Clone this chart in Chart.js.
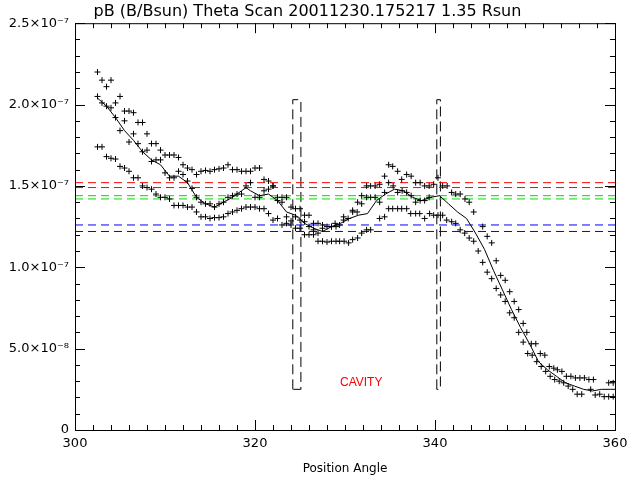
<!DOCTYPE html>
<html>
<head>
<meta charset="utf-8">
<script src="https://cdn.jsdelivr.net/npm/chart.js@4/dist/chart.umd.min.js"></script>
<style>
  html, body { margin: 0; padding: 0; background: #fff; }
  #wrap { width: 640px; height: 480px; }
</style>
</head>
<body>
<div id="wrap"><canvas id="chart"></canvas></div>
<script>
// values in units of 1e-7 (pB / Bsun)
const upperX = [302.5,303,303.5,304,304.5,305,305.5,306,306.5,307,307.5,308,308.5,309,309.5,310,310.5,311,311.5,312,312.5,313,313.5,314,314.5,315,315.5,316,316.5,317,317.5,318,318.5,319,319.5,320,320.5,321,321.5,322,322.5,323,323.5,324,324.5,325,325.5,326,326.5,327,327.5,328.5,328.9,329.85,330.85,331.4,331.85,332.4,332.85,333.35,333.85,334.4,334.85,335.3,335.85,336.3,336.85,337.35,337.85,338.35,338.85,339.35,339.85,340.33,340.85,341.35,341.85,342.3,342.8,343.33,343.8,344.3,345.3,345.8,346.3,346.8,347.3,347.8,348.3,348.8,349.3,349.8,350.2,350.7,351.2,351.7,352.2,352.7,353.2,353.6,354.1,354.6,355.1,355.6,356.1,356.6,357.1,357.6,359.3,359.8];
const upperY = [2.20,2.15,2.11,2.15,2.01,2.05,1.96,1.96,1.95,1.89,1.89,1.82,1.76,1.76,1.72,1.69,1.69,1.69,1.675,1.63,1.61,1.60,1.57,1.59,1.595,1.59,1.60,1.605,1.61,1.63,1.60,1.60,1.59,1.59,1.59,1.61,1.61,1.54,1.53,1.50,1.43,1.43,1.43,1.37,1.36,1.36,1.32,1.32,1.27,1.27,1.26,1.25,1.27,1.31,1.35,1.40,1.44,1.50,1.50,1.50,1.51,1.56,1.63,1.62,1.59,1.54,1.57,1.56,1.52,1.52,1.50,1.50,1.51,1.55,1.50,1.50,1.46,1.45,1.45,1.42,1.40,1.34,1.25,1.19,1.15,1.04,0.95,0.92,0.85,0.79,0.74,0.655,0.60,0.53,0.53,0.47,0.46,0.39,0.38,0.37,0.36,0.33,0.33,0.32,0.32,0.32,0.31,0.31,0.29,0.29];

const lowerX = [302.5,303,303.5,304,304.5,305,305.5,306,306.5,307,307.5,308,308.5,309,309.5,310,310.5,311,311.5,312,312.5,313,313.5,314,314.5,315,315.5,316,316.5,317,317.5,318,318.5,319,319.5,320,320.5,321,321.5,322,322.5,323,323.5,324,324.5,325,325.5,326,326.5,327,327.5,328,328.5,329,329.4,329.9,330.4,330.85,331.4,331.85,332.4,332.85,333.85,334.4,334.85,335.3,335.85,336.3,336.85,337.3,337.85,338.3,338.85,339.4,339.85,340.33,340.85,341.3,341.85,342.3,342.8,343.3,343.8,344.3,344.8,345.3,345.8,346.3,346.8,347.3,347.8,348.3,348.8,349.3,349.8,350.3,350.8,351.3,351.8,352.3,352.8,353.3,353.8,354.3,354.8,355.3,355.8,356.3,357.3,357.8,358.3,358.8,359.3,359.8];
const lowerY = [1.74,1.74,1.68,1.67,1.665,1.62,1.61,1.59,1.55,1.55,1.50,1.49,1.48,1.45,1.43,1.43,1.42,1.38,1.38,1.38,1.37,1.37,1.34,1.31,1.31,1.30,1.305,1.305,1.31,1.33,1.34,1.35,1.36,1.37,1.37,1.37,1.36,1.36,1.33,1.29,1.30,1.26,1.27,1.26,1.24,1.24,1.20,1.20,1.20,1.16,1.16,1.155,1.16,1.16,1.16,1.16,1.15,1.17,1.18,1.21,1.23,1.23,1.30,1.31,1.36,1.36,1.36,1.36,1.36,1.33,1.33,1.33,1.30,1.33,1.32,1.32,1.32,1.29,1.28,1.27,1.23,1.21,1.18,1.16,1.10,1.03,0.97,0.93,0.87,0.83,0.79,0.72,0.69,0.60,0.54,0.47,0.46,0.42,0.39,0.36,0.33,0.31,0.30,0.29,0.27,0.25,0.22,0.22,0.25,0.215,0.22,0.205,0.205,0.205];

const middleX = [302.5,303,303.5,304,304.5,305,305.5,306,306.5,307,307.5,308,308.5,309,309.5,310,310.5,311,311.5,312,312.5,313,313.5,314,314.5,315,315.5,316,316.5,317,317.5,318,318.5,319,319.5,320,320.5,321,321.5,322,322.5,323,323.5,324,324.5,325,325.5,326,326.5,327,327.5,328,328.5,329,329.4,329.85,330.35,330.85,331.35,331.85,332.4,332.85,333.35,333.85,334.4,334.85,335.35,335.85,336.35,336.85,337.35,337.85,338.35,338.85,339.35];
const middleY = [2.05,2.01,1.99,1.98,1.92,1.84,1.90,1.77,1.82,1.76,1.71,1.72,1.65,1.66,1.66,1.58,1.55,1.55,1.59,1.57,1.53,1.485,1.43,1.40,1.39,1.39,1.37,1.39,1.40,1.43,1.44,1.45,1.45,1.50,1.52,1.43,1.43,1.47,1.48,1.50,1.41,1.40,1.31,1.285,1.31,1.29,1.28,1.25,1.23,1.21,1.24,1.25,1.25,1.25,1.26,1.29,1.30,1.34,1.34,1.39,1.43,1.43,1.43,1.40,1.46,1.52,1.50,1.46,1.47,1.46,1.44,1.40,1.41,1.41,1.43];

const smoothX = [302.5,303.5,304.5,305.5,306.5,307.5,308.5,309.5,310.5,311.5,312.5,313.5,314.5,315.5,316.5,317.5,318.5,319,319.5,320.5,321.5,322.5,323.5,324.5,325.5,326.5,327.5,328.5,329.5,330.5,331.5,332.5,333.5,334.5,335.5,336.5,337.5,338.5,339.5,340.5,341.5,342.5,343.5,344.5,345.5,346.5,347.5,348.5,349.5,350.5,351.5,352.5,353.5,354.5,355.5,356.5,357.5,358.5,359.5,360];
const smoothY = [2.04,1.99,1.92,1.84,1.78,1.71,1.66,1.63,1.56,1.56,1.52,1.43,1.39,1.37,1.40,1.43,1.47,1.49,1.47,1.44,1.45,1.41,1.34,1.32,1.27,1.24,1.22,1.25,1.27,1.30,1.32,1.33,1.41,1.45,1.48,1.47,1.43,1.41,1.43,1.44,1.39,1.34,1.30,1.21,1.11,0.98,0.86,0.74,0.63,0.53,0.42,0.37,0.33,0.29,0.27,0.25,0.24,0.25,0.25,0.25];

// reference levels and cavity edges
const redLevels = [1.52, 1.49];
const greenLevels = [1.44, 1.42];
const blueLevels = [1.26, 1.22];
const cavityBoxes = [[324.2, 325.1], [340.2, 340.6]];
const cavityRange = [0.25, 2.03];
// keyed by tenths of 1e-7
const yTickLabels = { 0: '0', 5: '5.0×10⁻⁸', 10: '1.0×10⁻⁷', 15: '1.5×10⁻⁷', 20: '2.0×10⁻⁷', 25: '2.5×10⁻⁷' };

const pts = (xs, ys) => xs.map((x, i) => ({ x: x, y: ys[i] }));
const dots = (xs, ys) => ({
  data: pts(xs, ys), showLine: false, pointStyle: 'cross', pointRadius: 3,
  borderColor: '#000', borderWidth: 1
});
const hline = (y, color) => ({
  data: [{ x: 300, y: y }, { x: 360, y: y }], showLine: true, pointRadius: 0,
  borderColor: color, borderWidth: 1, borderDash: [8, 5]
});

const datasets = [dots(upperX, upperY), dots(middleX, middleY), dots(lowerX, lowerY),
  { data: pts(smoothX, smoothY), showLine: true, pointRadius: 0, borderColor: '#000', borderWidth: 1 }];
redLevels.forEach(v => datasets.push(hline(v, '#ff0000')));
greenLevels.forEach(v => datasets.push(hline(v, '#00dd00')));
blueLevels.forEach(v => datasets.push(hline(v, '#0000ff')));
cavityBoxes.forEach(b => datasets.push({
  data: [{ x: b[0], y: cavityRange[0] }, { x: b[0], y: cavityRange[1] }, { x: b[1], y: cavityRange[1] },
    { x: b[1], y: cavityRange[0] }, { x: b[0], y: cavityRange[0] }],
  showLine: true, pointRadius: 0, borderColor: '#000', borderWidth: 1, borderDash: [10, 5]
}));

// inward tick marks and the CAVITY label
const extras = {
  id: 'extras',
  afterDraw(chart) {
    const ctx = chart.ctx, xs = chart.scales.x, ys = chart.scales.y, a = chart.chartArea;
    ctx.save();
    ctx.strokeStyle = '#000';
    ctx.lineWidth = 1;
    ctx.strokeRect(a.left + 0.5, a.top + 0.5, a.right - a.left, a.bottom - a.top);
    ctx.beginPath();
    for (let v = 300; v <= 360; v += 2) {
      const p = Math.round(xs.getPixelForValue(v)) + 0.5, len = v % 20 === 0 ? 10 : 5;
      ctx.moveTo(p, a.bottom); ctx.lineTo(p, a.bottom - len);
      ctx.moveTo(p, a.top); ctx.lineTo(p, a.top + len);
    }
    for (let t = 0; t <= 25; t++) {
      const p = Math.round(ys.getPixelForValue(t / 10)) + 0.5, len = t % 5 === 0 ? 10 : 5;
      ctx.moveTo(a.left, p); ctx.lineTo(a.left + len, p);
      ctx.moveTo(a.right, p); ctx.lineTo(a.right - len, p);
    }
    ctx.stroke();
    ctx.fillStyle = '#ff0000';
    ctx.font = '12px "Liberation Sans", Arial, sans-serif';
    ctx.textAlign = 'center';
    ctx.textBaseline = 'middle';
    ctx.fillText('CAVITY', xs.getPixelForValue(331.8), ys.getPixelForValue(0.29));
    ctx.restore();
  }
};

new Chart(document.getElementById('chart'), {
  type: 'scatter',
  data: { datasets: datasets },
  options: {
    responsive: true,
    maintainAspectRatio: false,
    animation: false,
    layout: { padding: { left: 0, right: 25, top: 0, bottom: 0 } },
    plugins: {
      legend: { display: false },
      tooltip: { enabled: false },
      title: {
        display: true,
        text: 'pB (B/Bsun) Theta Scan 20011230.175217 1.35 Rsun',
        color: '#000',
        font: { size: 16, weight: 'normal', family: '"DejaVu Sans", sans-serif' },
        padding: { top: 2, bottom: 2 }
      }
    },
    scales: {
      x: {
        type: 'linear', min: 300, max: 360,
        grid: { display: false, drawTicks: false },
        border: { display: false },
        ticks: { stepSize: 20, color: '#000', padding: 6, maxRotation: 0,
          font: { size: 13, family: '"DejaVu Sans", sans-serif' } },
        title: { display: true, text: 'Position Angle', color: '#000', padding: { top: 0, bottom: 4 },
          font: { size: 12, family: '"DejaVu Sans", sans-serif' } },
        afterFit: s => { s.height = 50; }
      },
      y: {
        type: 'linear', min: 0, max: 2.5,
        grid: { display: false, drawTicks: false },
        border: { display: false },
        ticks: { stepSize: 0.5, color: '#000', padding: 6,
          callback: v => { const k = Math.round(v * 10); return yTickLabels[k] !== undefined ? yTickLabels[k] : ''; },
          font: { size: 13, family: '"DejaVu Sans", sans-serif' } },
        afterFit: s => { s.width = 75; }
      }
    }
  },
  plugins: [extras]
});
</script>
</body>
</html>
